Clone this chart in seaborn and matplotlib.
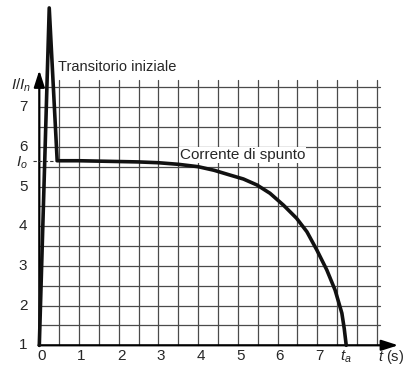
import numpy as np
import pandas as pd
import seaborn as sns
import matplotlib.pyplot as plt

sns.set_style('white')
plt.rcParams['font.family'] = ['Liberation Sans', 'DejaVu Sans']
plt.rcParams['mathtext.fontset'] = 'custom'
plt.rcParams['mathtext.rm'] = 'Liberation Sans'
plt.rcParams['mathtext.it'] = 'Liberation Sans:italic'

# starting current curve (I/In vs t)
t = [0, 0.25, 0.45, 1, 2, 2.5, 3, 3.5, 4, 4.4, 4.8, 5.14, 5.48, 5.81, 6.15,
     6.48, 6.74, 6.99, 7.24, 7.45, 7.62, 7.68, 7.73]
i_rel = [1, 9.5, 5.65, 5.65, 5.63, 5.62, 5.6, 5.56, 5.5, 5.41, 5.29, 5.19, 5.04,
         4.83, 4.53, 4.20, 3.86, 3.40, 2.90, 2.39, 1.81, 1.42, 1.0]
i_o = 5.65
t_a = 7.73
x_ticks = [0, 1, 2, 3, 4, 5, 6, 7]
y_ticks = [1, 2, 3, 4, 5, 6, 7]

df = pd.DataFrame({'t': t, 'i': i_rel})

fig = plt.figure(figsize=(4.03, 3.67), dpi=100)
ax = fig.add_axes([0, 0, 1, 1])
ax.set_xlim(-0.99, 9.16)
ax.set_ylim(0.453, 9.70)
ax.axis('off')

# grid
gc = '#4a4a4a'
for y in np.arange(1.5, 7.51, 0.5):
    ax.plot([0, 8.58], [y, y], color=gc, lw=0.9, zorder=1)
for x in np.arange(0.5, 8.51, 0.5):
    ax.plot([x, x], [1, 7.68], color=gc, lw=0.9, zorder=1)

# axes with arrows
arrow = dict(arrowstyle='-|>,head_length=0.5,head_width=0.16', lw=1.6, color='k',
             mutation_scale=20, shrinkA=0, shrinkB=0)
ax.annotate('', xy=(9.04, 1), xytext=(-0.02, 1), arrowprops=arrow, zorder=2)
ax.annotate('', xy=(0, 7.93), xytext=(0, 0.98), arrowprops=arrow, zorder=2)

# curve
sns.lineplot(data=df, x='t', y='i', ax=ax, color='#111111', lw=2.6, zorder=3,
             sort=False, legend=False)
ax.plot([-0.16, 0.45], [i_o, i_o], color='#333333', lw=0.8, ls=(0, (3, 2)), zorder=2)

# tick labels
fs = 11
for v in y_ticks:
    ax.text(-0.3, v, str(v), ha='right', va='center', fontsize=fs)
for v in x_ticks:
    ax.text(v + 0.06, 0.72, str(v), ha='center', va='center', fontsize=fs)
ax.text(-0.3, i_o - 0.06, r'$I_o$', ha='right', va='center', fontsize=fs)
ax.text(t_a, 0.70, r'$t_a$', ha='center', va='center', fontsize=fs)
ax.text(8.52, 0.70, r'$t$ (s)', ha='left', va='center', fontsize=10.5)
ax.text(-0.2, 7.55, r'$I/I_n$', ha='right', va='center', fontsize=fs)

ax.text(0.47, 8.01, 'Transitorio iniziale', ha='left', va='center', fontsize=10.5)
ax.text(3.54, 5.79, 'Corrente di spunto', ha='left', va='center', fontsize=fs,
        bbox=dict(facecolor='white', edgecolor='none', pad=0.5), zorder=2.5)

fig.savefig('out.png', dpi=100)
